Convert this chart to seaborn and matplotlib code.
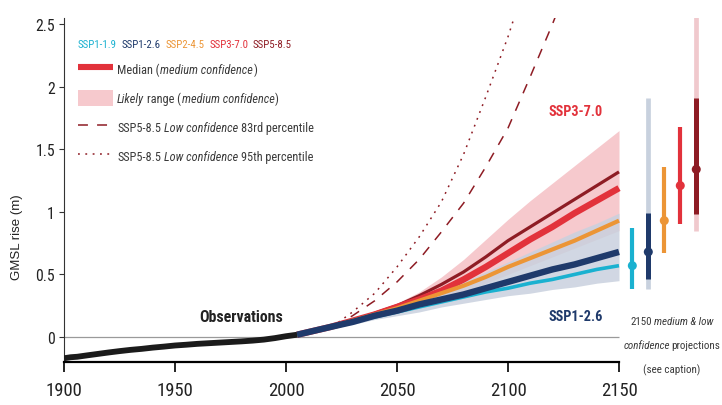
import numpy as np
import pandas as pd
import matplotlib
matplotlib.use("Agg")
import matplotlib.pyplot as plt
from matplotlib import font_manager as fm
from matplotlib.lines import Line2D
from matplotlib.patches import Patch
import seaborn as sns

# ---------------- data ----------------
obs_years = [1900, 1903, 1906, 1910, 1915, 1920, 1925, 1930, 1935, 1940, 1945,
             1950, 1955, 1960, 1965, 1970, 1975, 1980, 1985, 1990, 1995, 2000, 2005]
obs_gmsl = [-0.170, -0.162, -0.158, -0.148, -0.136, -0.124, -0.113, -0.103, -0.095,
            -0.085, -0.077, -0.068, -0.062, -0.055, -0.050, -0.045, -0.040, -0.035,
            -0.029, -0.021, -0.009, 0.006, 0.018]

proj_years = [2005, 2020, 2030, 2040, 2050, 2060, 2070, 2080, 2090, 2100,
              2110, 2120, 2130, 2140, 2150]
ssp119 = [0.018, 0.08, 0.12, 0.16, 0.20, 0.24, 0.28, 0.32, 0.36, 0.39, 0.43, 0.46, 0.50, 0.54, 0.57]
ssp126 = [0.018, 0.08, 0.12, 0.17, 0.21, 0.26, 0.30, 0.34, 0.39, 0.44, 0.49, 0.54, 0.58, 0.63, 0.68]
ssp245 = [0.018, 0.08, 0.13, 0.18, 0.23, 0.29, 0.35, 0.41, 0.48, 0.56, 0.63, 0.70, 0.77, 0.85, 0.93]
ssp370 = [0.018, 0.08, 0.13, 0.18, 0.24, 0.30, 0.37, 0.46, 0.56, 0.67, 0.78, 0.88, 0.99, 1.09, 1.19]
ssp585 = [0.018, 0.08, 0.13, 0.19, 0.25, 0.33, 0.42, 0.52, 0.64, 0.77, 0.88, 0.99, 1.10, 1.21, 1.32]

ssp370_hi = [0.018, 0.09, 0.15, 0.21, 0.27, 0.36, 0.48, 0.62, 0.78, 0.94, 1.09, 1.23, 1.37, 1.51, 1.65]
ssp370_lo = [0.018, 0.07, 0.11, 0.15, 0.19, 0.24, 0.30, 0.36, 0.43, 0.50, 0.57, 0.64, 0.71, 0.78, 0.85]
ssp126_hi = [0.018, 0.09, 0.14, 0.19, 0.24, 0.30, 0.37, 0.44, 0.52, 0.60, 0.68, 0.76, 0.84, 0.91, 0.99]
ssp126_lo = [0.018, 0.07, 0.10, 0.14, 0.17, 0.20, 0.24, 0.27, 0.30, 0.33, 0.35, 0.38, 0.40, 0.43, 0.45]

low_years = [2005, 2020, 2030, 2040, 2050, 2060, 2070, 2080, 2090, 2100, 2110, 2120, 2130]
ssp585_p83 = [0.018, 0.07, 0.17, 0.29, 0.44, 0.62, 0.84, 1.07, 1.36, 1.67, 2.08, 2.50, 2.95]
ssp585_p95 = [0.018, 0.07, 0.20, 0.35, 0.56, 0.80, 1.08, 1.46, 1.92, 2.40, 2.95, 3.50, 4.10]

scenarios = ["SSP1-1.9", "SSP1-2.6", "SSP2-4.5", "SSP3-7.0", "SSP5-8.5"]
colors = ["#1ab1d0", "#1f3a6b", "#ec9536", "#e2323b", "#8e1c24"]
light_colors = [None, "#c8d1de", None, None, "#f0c9cd"]

# 2150 medium & low confidence projections
med_2150 = [0.57, 0.68, 0.93, 1.21, 1.34]
likely_lo_2150 = [0.38, 0.46, 0.67, 0.90, 0.98]
likely_hi_2150 = [0.87, 0.99, 1.36, 1.68, 1.91]
lowconf_lo_2150 = [np.nan, 0.38, np.nan, np.nan, 0.85]
lowconf_hi_2150 = [np.nan, 1.91, np.nan, np.nan, 2.60]

yticks = [0, 0.5, 1, 1.5, 2, 2.5]
ytick_labels = ["0", "0.5", "1", "1.5", "2", "2.5"]
xticks = [1900, 1950, 2000, 2050, 2100, 2150]

# ---------------- style ----------------
sns.set_theme(style="ticks")
names = {f.name for f in fm.fontManager.ttflist}
FONT, F = "Liberation Sans", 1.0
for cand in ["Liberation Sans Narrow", "Roboto Condensed", "Open Sans Condensed",
             "Noto Sans Condensed", "Arial Narrow"]:
    if cand in names:
        FONT, F = cand, 1.22
        break
plt.rcParams["font.family"] = [FONT, "DejaVu Sans"]

TXT = "#3a3a3a"

W, H = 722, 406
fig = plt.figure(figsize=(W / 100, H / 100), dpi=100)
ax = fig.add_axes([64 / W, (H - 363) / H, (712 - 64) / W, (363 - 19) / H])
ax.set_xlim(1900, 1900 + 648 / 2.22)
ax.set_ylim(-0.2, 2.55)

# zero line
ax.hlines(0, 1900, 2150, color="#9a9a9a", lw=0.9, zorder=1)

# likely ranges
ax.fill_between(proj_years, ssp370_lo, ssp370_hi, color="#f6c9cd", lw=0, zorder=2)
ax.fill_between(proj_years, ssp126_lo, ssp126_hi, color="#c9d1de", alpha=0.85, lw=0, zorder=3)

# low confidence SSP5-8.5
ax.plot(low_years, ssp585_p83, color="#8e1c24", lw=1.1, ls=(0, (6.5, 6)), zorder=4)
ax.plot(low_years, ssp585_p95, color="#8e1c24", lw=1.1, ls=(0, (1.2, 3.6)), zorder=4)

# medians
proj_df = pd.DataFrame({"year": proj_years, "SSP1-1.9": ssp119, "SSP1-2.6": ssp126,
                        "SSP2-4.5": ssp245, "SSP3-7.0": ssp370, "SSP5-8.5": ssp585})
widths = {"SSP5-8.5": 2.3, "SSP3-7.0": 4.6, "SSP2-4.5": 3.0, "SSP1-1.9": 2.6, "SSP1-2.6": 4.6}
order = ["SSP5-8.5", "SSP3-7.0", "SSP2-4.5", "SSP1-1.9", "SSP1-2.6"]
for i, s in enumerate(order):
    c = colors[scenarios.index(s)]
    sns.lineplot(data=proj_df, x="year", y=s, ax=ax, color=c, lw=widths[s],
                 zorder=5 + i, solid_capstyle="butt")

# observations
obs_df = pd.DataFrame({"year": obs_years, "gmsl": obs_gmsl})
sns.lineplot(data=obs_df, x="year", y="gmsl", ax=ax, color="#1b1b1b", lw=4.2, zorder=11,
             solid_capstyle="butt")

# 2150 bars
bar_x = 2156 + 7.2 * np.arange(len(scenarios))
for i in range(len(scenarios)):
    if light_colors[i] is not None:
        ax.vlines(bar_x[i], lowconf_lo_2150[i], lowconf_hi_2150[i], color=light_colors[i],
                  lw=3.4, zorder=12)
    ax.vlines(bar_x[i], likely_lo_2150[i], likely_hi_2150[i], color=colors[i],
              lw=3.6 if light_colors[i] is not None else 3.0, zorder=13)
bar_df = pd.DataFrame({"x": bar_x, "y": med_2150, "s": scenarios})
sns.scatterplot(data=bar_df, x="x", y="y", hue="s", palette=colors, s=42, ax=ax,
                legend=False, zorder=14, edgecolor="none")

# axes styling
ax.set_xlabel("")
ax.set_ylabel("")
sns.despine(ax=ax)
ax.spines["bottom"].set_bounds(1900, 2150)
ax.spines["bottom"].set_linewidth(1.6)
ax.spines["bottom"].set_color("black")
ax.spines["left"].set_linewidth(0.8)
ax.spines["left"].set_color("#333333")
ax.set_xticks(xticks)
ax.set_xticklabels([str(v) for v in xticks])
ax.set_yticks(yticks)
ax.set_yticklabels(ytick_labels)
ax.tick_params(axis="x", length=7, width=1.2, color="black", pad=7, labelsize=11 * F,
               labelcolor="#222222")
ax.tick_params(axis="y", length=3.5, width=0.8, color="#333333", pad=3, labelsize=9.3 * F,
               labelcolor="#222222")

fig.text(17 / W, 1 - 237 / H, "GMSL rise (m)", rotation=90, ha="center", va="center",
         fontsize=9.5, family=["Liberation Sans", "DejaVu Sans"], color="#222222")

# in-plot labels
fig.text(241 / W, 1 - 318 / H, "Observations", ha="center", va="center", fontsize=9.4 * F,
         fontweight="bold", color="#222222")
fig.text(603 / W, 1 - 112 / H, "SSP3-7.0", ha="right", va="center", fontsize=8.4 * F,
         fontweight="bold", color=colors[3])
fig.text(603 / W, 1 - 317 / H, "SSP1-2.6", ha="right", va="center", fontsize=8.4 * F,
         fontweight="bold", color=colors[1])


def chain(first, parts, size, color):
    """Append text pieces (text, italic, gap_pt[, color]) right after artist `first`."""
    prev = first
    out = [first]
    for p in parts:
        s, it, gap = p[:3]
        col = p[3] if len(p) > 3 else color
        prev = ax.annotate(s, xy=(1, 0), xycoords=prev, xytext=(gap, 0),
                           textcoords="offset points", ha="left", va="bottom",
                           fontsize=size, color=col, style="italic" if it else "normal")
        out.append(prev)
    return out


LS = 7.2 * F       # legend size
CS = 6.5 * F       # caption size
SP = 0.24 * LS     # space width in points

# caption for bars (centered lines with mixed style)
cap_parts = [("2150", False, [("medium & low", True, 0.22 * CS)]),
             ("confidence", True, [("projections", False, 0.12 * CS)]),
             ("(see caption)", False, [])]
cap_groups = []
for k, (s0, it0, rest) in enumerate(cap_parts):
    t0 = fig.text(672 / W, 1 - (322 + 24 * k) / H, s0, ha="left", va="center",
                  fontsize=CS, color=TXT, style="italic" if it0 else "normal")
    cap_groups.append(chain(t0, rest, CS, TXT))

# legend: colored scenario row
RS = 6.4 * F
t_first = fig.text(78 / W, 1 - 45 / H, scenarios[0], ha="left", va="center",
                   fontsize=RS, color=colors[0])
chain(t_first, [(s, False, 3.4, c) for s, c in zip(scenarios[1:], colors[1:])], RS, TXT)

handles = [Line2D([], [], color=colors[3], lw=4.4, solid_capstyle="butt"),
           Patch(facecolor="#f6c9cd", edgecolor="none"),
           Line2D([], [], color="#8e1c24", lw=1.1, ls=(0, (6.5, 6))),
           Line2D([], [], color="#8e1c24", lw=1.1, ls=(0, (1.2, 3.6)))]
first_labels = ["Median (", "Likely", "SSP5-8.5", "SSP5-8.5"]
rest_parts = [[("medium confidence", True, 0.4), (")", False, 0.4)],
              [("range (", False, SP), ("medium confidence", True, 0.4), (")", False, 0.4)],
              [("Low confidence", True, SP), ("83rd percentile", False, SP)],
              [("Low confidence", True, SP), ("95th percentile", False, SP)]]
fs_px = LS * 100 / 72
leg = fig.legend(handles, first_labels, loc="upper left", bbox_to_anchor=(78 / W, 1 - 62 / H),
                 frameon=False, fontsize=LS, handlelength=35 / fs_px, handleheight=20 / fs_px,
                 handletextpad=4 / fs_px, labelspacing=13 / fs_px, borderpad=0, borderaxespad=0,
                 labelcolor=TXT)
leg_texts = leg.get_texts()
leg_texts[1].set_style("italic")
for t, rest in zip(leg_texts, rest_parts):
    chain(t, rest, LS, TXT)

# center caption lines
fig.canvas.draw()
r = fig.canvas.get_renderer()
for grp in cap_groups:
    x0 = grp[0].get_window_extent(r).x0
    x1 = grp[-1].get_window_extent(r).x1
    shift = (672 - (x0 + x1) / 2) / W
    px, py = grp[0].get_position()
    grp[0].set_position((px + shift, py))

fig.savefig("out.png", dpi=100)
